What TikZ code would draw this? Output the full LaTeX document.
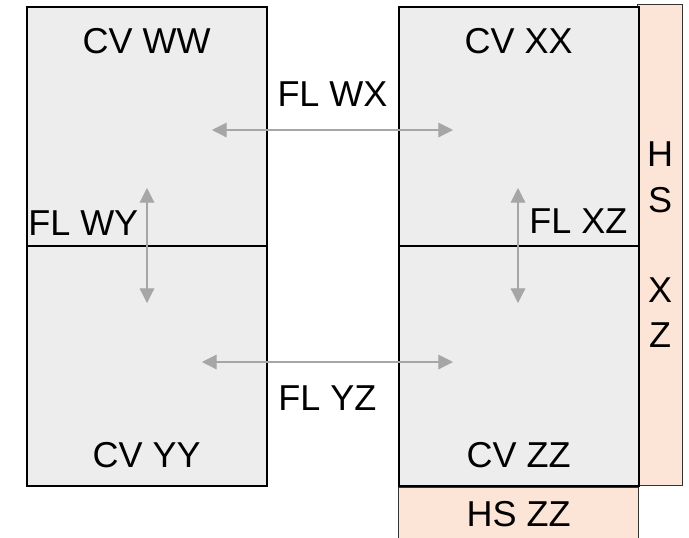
\documentclass[tikz,border=0pt]{standalone}
\usepackage{fontspec}
\setmainfont{Liberation Sans}
\usetikzlibrary{arrows.meta}
\usetikzlibrary{positioning}
\definecolor{cvfill}{RGB}{237,237,237}
\definecolor{hsfill}{RGB}{252,228,214}
\definecolor{flowgray}{RGB}{166,166,166}
\tikzstyle{cell} = [rectangle, minimum width=180pt, minimum height=179.5pt, inner sep=0pt,
outer sep=0pt, fill=cvfill, draw=black, line width=1.5pt]
\tikzstyle{heat} = [rectangle, inner sep=0pt, outer sep=0pt, fill=hsfill, draw=black!80,
line width=0.75pt, align=center, font=\fontsize{27}{33.9}\selectfont]
\tikzstyle{lbl} = [inner sep=0pt, font=\fontsize{27}{33.9}\selectfont]
\tikzstyle{flow} = [flowgray, line width=0.9pt, {Triangle[length=11pt,width=11pt]}-{Triangle[length=11pt,width=11pt]}]

\begin{document}
\begin{tikzpicture} [x=0.75pt, y=-0.75pt, node distance=0pt]
    \useasboundingbox (0,0) rectangle (689,537);
    \node (hsxz) [heat, anchor=south west, minimum width=33.6pt, minimum height=361pt] at (637.7,485.5) {H\\S\\[33.9pt]X\\Z};
    \node (ww) [cell] at (146.7,126.5) {};
    \node (yy) [cell, below=of ww] {};
    \node (xx) [cell, right=99pt of ww] {};
    \node (zz) [cell, below=of xx] {};
    \node (hszz) [heat, below=1.2pt of zz, minimum width=180pt, minimum height=39.9pt] {HS ZZ};

    \node (tww) [lbl, below=16pt of ww.north] {CV WW};
    \node (txx) [lbl, below=16pt of xx.north] {CV XX};
    \node (tyy) [lbl, above=13.1pt of yy.south] {CV YY};
    \node (tzz) [lbl, above=13.1pt of zz.south] {CV ZZ};

    \coordinate (wxw) at (212,130);
    \coordinate (wxx) at (453,130);
    \coordinate (yzy) at (202,362);
    \coordinate (yzz) at (453,362);
    \coordinate (wyw) at (147,188);
    \coordinate (wyy) at (147,303);
    \coordinate (xzx) at (518,188);
    \coordinate (xzz) at (518,303);

    \draw[flow] (wxw) -- node (flwx) [lbl, above=17pt, text=black] {FL WX} (wxx);
    \draw[flow] (yzy) -- node (flyz) [lbl, below=17pt, text=black] {FL YZ} (yzz);
    \draw[flow] (wyw) -- (wyy);
    \draw[flow] (xzx) -- (xzz);
    \node (flwy) [lbl, anchor=base west] at (28,235) {FL WY};
    \node (flxz) [lbl, anchor=base west] at (529,233) {FL XZ};

\end{tikzpicture}
\end{document}
